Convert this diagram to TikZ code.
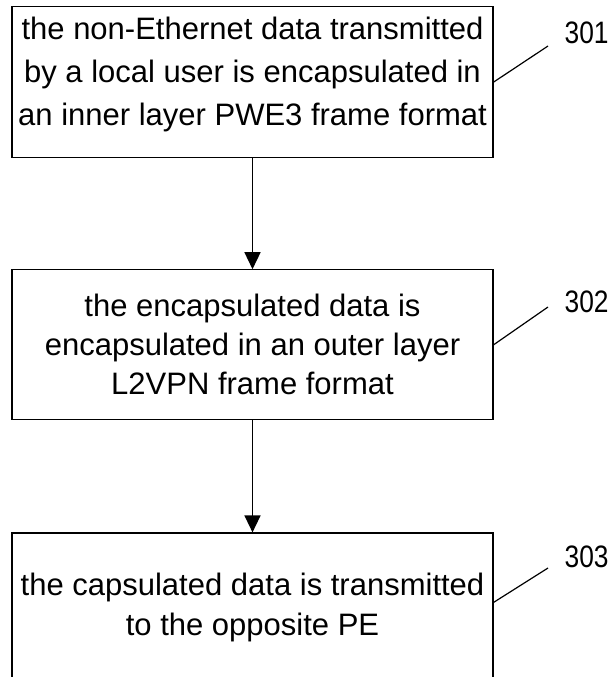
\documentclass[tikz,border=0pt]{standalone}
\usepackage{fontspec}
\setmainfont{Liberation Sans}
\newfontfamily\numfont[FakeStretch=0.85]{Liberation Sans}
\usetikzlibrary{positioning, arrows.meta}

\begin{document}
\begin{tikzpicture}[x=1pt, y=1pt, >={Triangle[length=17pt,width=16pt]},
                    node distance=111pt, line width=1.2pt,
                    stepbox/.style={draw, minimum width=481pt, inner sep=0pt, align=center},
                    refnum/.style={font=\numfont\fontsize{31}{31}\selectfont, inner sep=0pt, anchor=base west}]

  \clip (0,0) rectangle (613,-677);

  \node[stepbox, anchor=north, text height=119pt, text depth=32pt,
        font=\fontsize{31}{43}\selectfont] (s1) at (252.5,-6)
        {the non-Ethernet data transmitted\\by a local user is encapsulated in\\an inner layer PWE3 frame format};
  \node[stepbox, text height=125pt, text depth=25pt,
        font=\fontsize{31}{39}\selectfont] (s2) [below=of s1]
        {the encapsulated data is\\encapsulated in an outer layer\\L2VPN frame format};
  \node[stepbox, text height=102pt, text depth=120pt,
        font=\fontsize{31}{39.5}\selectfont] (s3) [below=112pt of s2]
        {the capsulated data is transmitted\\to the opposite PE};

  \node[refnum] (n301) at (564,-44) {301};
  \node[refnum] (n302) at (564,-312) {302};
  \node[refnum] (n303) at (564,-567) {303};

  \path[->, line width=1.5pt]
  (s1) edge (s2)
  (s2) edge (s3);

  \draw (s1.east) -- ([shift={(-16pt,-2pt)}]n301.base west);
  \draw (s2.east) -- ([shift={(-16pt,5pt)}]n302.base west);
  \draw ([yshift=-70pt]s3.north east) -- ([shift={(-16pt,-1pt)}]n303.base west);
\end{tikzpicture}
\end{document}
